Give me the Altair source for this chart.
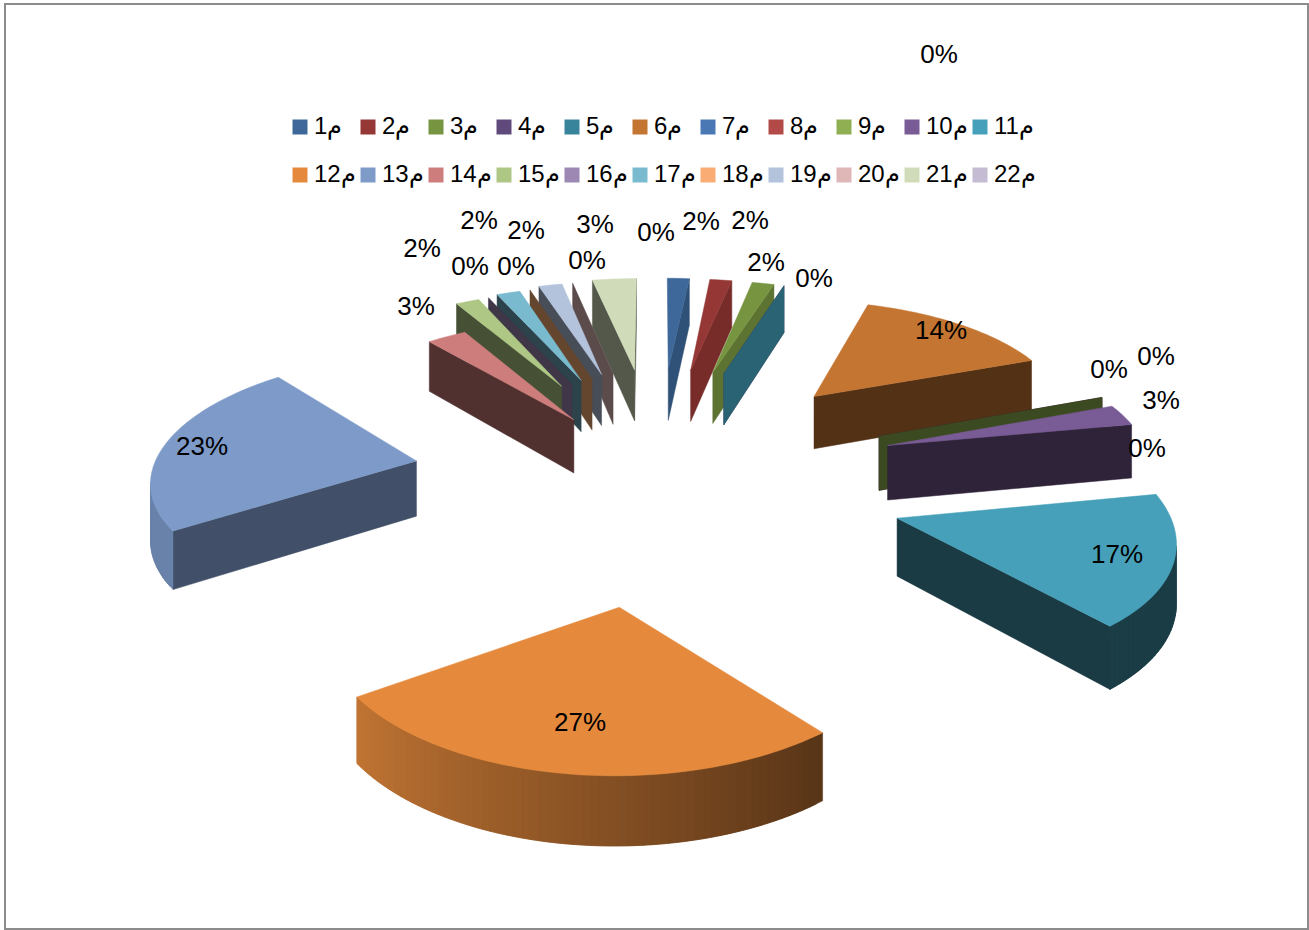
import math
import altair as alt

# Series names and their shares of the whole, in percent
series = ["م%d" % i for i in range(1, 23)]
shares = [1.6, 1.6, 1.6, 0, 0, 14.4, 0, 0, 0, 2.8, 16.9, 26.6,
          23.4, 2.8, 1.7, 0, 1.7, 0, 1.7, 0, 3.2, 0]
colors = ["#3D6899", "#953735", "#779440", "#604A7B", "#37849B", "#C47531",
          "#4A78B4", "#B24B48", "#90AF52", "#795B96", "#46A0B9", "#E58A3D",
          "#7D9AC8", "#CD7E7C", "#AEC785", "#9D88B4", "#7ABACF", "#F9AC74",
          "#B4C3DC", "#DFB7B6", "#D0DCB9", "#C5BCD3"]

# Brightness of each slice's flat cut faces
wall_shade = [0.78, 0.8, 0.78, 0.75, 0.75, 0.42, 0.42, 0.42, 0.42, 0.39, 0.37, 0.4,
              0.52, 0.39, 0.4, 0.4, 0.36, 0.4, 0.4, 0.41, 0.4, 0.4]
# How far each slice is pulled out of the pie, relative to the common explosion
pull = [1] * 13 + [0.62, 0.93, 0.93, 0.95, 0.95, 0.98, 0.98, 1, 1]
# Where each percentage label sits
label_x = [701, 750, 766, 939, 814, 941, 1109, 1156, 1147, 1161, 1117, 580,
           202, 416, 422, 470, 479, 516, 526, 587, 595, 656]
label_y = [221, 220, 262, 54, 278, 330, 369, 356, 448, 400, 554, 722,
           446, 306, 248, 266, 220, 266, 230, 260, 224, 232]

W, H = 1309, 930
CX, CY = 657, 477      # pie centre on the page
SQUASH = 0.4935        # vertical foreshortening of the tilted pie
STRETCH = 1.08         # horizontal scale
PERSP = 0.00042        # perspective shrink with distance
EXPLODE = 240          # explosion distance
EXPLODE_X = 0.95       # explosion is a little narrower across the page
RADIUS = 245           # pie radius
DEPTH = 56             # extrusion of the pie
EDGE_ON = 1.5          # side faces narrower than this many pixels are skipped


def project(x, y, drop=0.0):
    s = 1 / (1 + PERSP * y)
    return [CX + STRETCH * x * s, CY - SQUASH * y * s + drop * s]


def shade(hex_color, f):
    r, g, b = (int(hex_color[i:i + 2], 16) for i in (1, 3, 5))
    return "#%02x%02x%02x" % (round(r * f), round(g * f), round(b * f))


def rim_shade(t):
    # The curved rim darkens from the left of the pie towards the right
    return 0.38 + (0.85 - 0.38) * min(1, max(0, (t - 140) / 97))


def polygon(points, fill):
    ring = points + [points[0]]
    return {"type": "Feature", "properties": {"fill": fill},
            "geometry": {"type": "Polygon", "coordinates": [ring]}}


total = sum(shares)
slices = []
start = 0.0
for i, share in enumerate(shares):
    sweep = 360 * share / total
    mid = math.radians(start + sweep / 2)
    tip = (EXPLODE * EXPLODE_X * pull[i] * math.sin(mid), EXPLODE * pull[i] * math.cos(mid))
    slices.append((i, start, sweep, tip))
    start += sweep

faces = []
for i, a0, sweep, tip in sorted(slices, key=lambda s: -s[3][1]):
    steps = max(1, int(sweep / 1.5))
    angles = [a0 + sweep * j / steps for j in range(steps + 1)]
    arc3d = [(tip[0] + RADIUS * math.sin(math.radians(t)),
              tip[1] + RADIUS * math.cos(math.radians(t))) for t in angles]
    top_tip = project(*tip)
    top_arc = [project(*p) for p in arc3d]
    low_tip = project(*tip, DEPTH)
    low_arc = [project(*p, DEPTH) for p in arc3d]
    wall = shade(colors[i], wall_shade[i])

    # A side face shows when its top edge runs leftwards in clockwise order
    if top_arc[0][0] < top_tip[0] - EDGE_ON:
        faces.append(polygon([top_tip, top_arc[0], low_arc[0], low_tip], wall))
    if top_tip[0] < top_arc[-1][0] - EDGE_ON:
        faces.append(polygon([top_arc[-1], top_tip, low_tip, low_arc[-1]], wall))
    for j in range(steps):
        if top_arc[j + 1][0] < top_arc[j][0]:
            # Each rim strip runs under the next one so no seams show
            k = min(j + 2, steps)
            f = shade(colors[i], rim_shade((angles[j] + angles[j + 1]) / 2))
            faces.append(polygon([top_arc[j], top_arc[k], low_arc[k], low_arc[j]], f))
    if sweep > 0:
        faces.append(polygon([top_tip] + top_arc, colors[i]))

pie = alt.Chart(alt.Data(values=faces)).mark_geoshape(strokeWidth=0.5).encode(
    fill=alt.Fill("properties.fill:N", scale=None, legend=None),
    stroke=alt.Stroke("properties.fill:N", scale=None, legend=None),
).project(type="identity", scale=1, translate=[0, 0])

rows = [{"series": s, "label": "%d%%" % round(100 * v / total), "lx": x, "ly": y}
        for s, v, x, y in zip(series, shares, label_x, label_y)]
table = alt.Data(values=rows)

legend_layer = alt.Chart(table).mark_square(size=0).encode(
    x=alt.value(0),
    y=alt.value(0),
    color=alt.Color(
        "series:N",
        scale=alt.Scale(domain=series, range=colors),
        sort=series,
        legend=alt.Legend(
            orient="none", legendX=288, legendY=115, columns=11, title=None,
            direction="horizontal",
            symbolType="square", symbolSize=225, symbolStrokeWidth=0,
            symbolOpacity=1, labelFont="Liberation Sans", labelFontSize=24,
            labelColor="#000000", labelOffset=2, labelLimit=60,
            gridAlign="all", columnPadding=0, rowPadding=24, padding=0,
        ),
    ),
)

labels = alt.Chart(table).mark_text(
    font="Liberation Sans", fontSize=26, color="#000000", align="center", baseline="middle", dy=1
).encode(
    x=alt.X("lx:Q", scale=None),
    y=alt.Y("ly:Q", scale=None),
    text="label:N",
)

frame = alt.Chart(table).mark_rect(fill="transparent", stroke="#8c8c8c", strokeWidth=2).encode(
    x=alt.value(5), x2=alt.value(1308), y=alt.value(4), y2=alt.value(929)
)

chart = alt.layer(frame, pie, legend_layer, labels).properties(
    width=W, height=H, padding=0, autosize=alt.AutoSizeParams(type="none"),
    background="#ffffff",
).configure_view(stroke=None)

chart.save("out.html", embed_options={"renderer": "svg", "actions": False})
